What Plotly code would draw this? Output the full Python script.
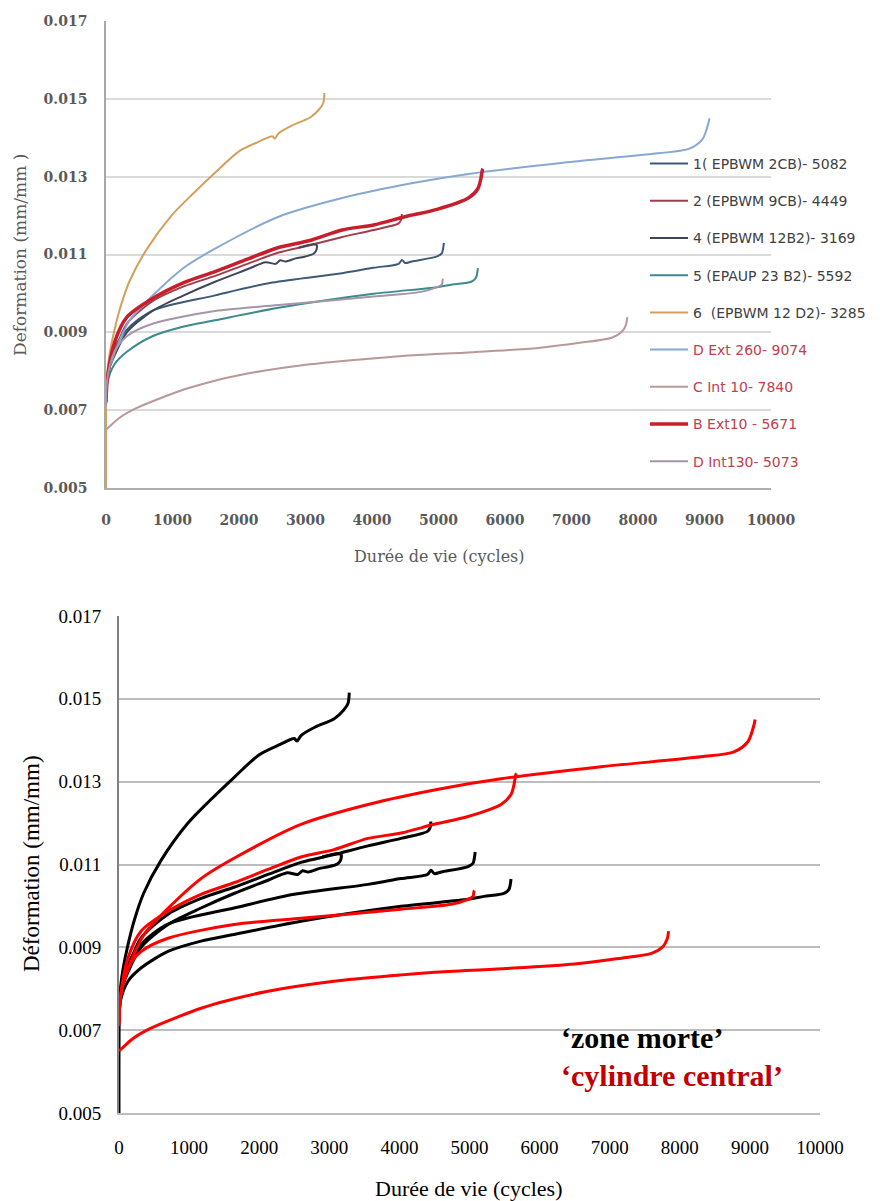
import plotly.graph_objects as go

# ---------------- data (cycles, deformation mm/mm) ----------------
x_s1 = [0, 20, 71, 314, 699, 1640, 2500, 3552, 4023, 4400, 4451, 4500, 4600, 4979, 5050, 5079, 5082]
y_s1 = [0.0073, 0.0078, 0.00842, 0.00907, 0.00956, 0.00995, 0.01028, 0.01052, 0.01066, 0.01076, 0.01086,
        0.01078, 0.01082, 0.01095, 0.01103, 0.01127, 0.0113]

x_s2 = [0, 20, 128, 314, 699, 1170, 1640, 2126, 2596, 3067, 3552, 4023, 4401, 4440, 4449]
y_s2 = [0.0073, 0.0079, 0.0085, 0.00922, 0.0098, 0.01018, 0.01045, 0.01076, 0.01105, 0.01124, 0.01145,
        0.01163, 0.0118, 0.0119, 0.01204]

x_s4 = [0, 20, 128, 314, 699, 1170, 1640, 2126, 2400, 2550, 2620, 2700, 2850, 3000, 3120, 3160, 3169, 3100, 2900]
y_s4 = [0.0073, 0.0079, 0.0084, 0.0090, 0.00955, 0.00995, 0.0103, 0.01062, 0.0108, 0.01076, 0.01085,
        0.01082, 0.0109, 0.01095, 0.01102, 0.0111, 0.01124, 0.01126, 0.01118]

x_s5 = [0, 20, 128, 314, 699, 1170, 1640, 2596, 4023, 4979, 5207, 5492, 5563, 5592]
y_s5 = [0.0072, 0.0077, 0.00818, 0.0085, 0.0089, 0.00915, 0.00931, 0.00963, 0.00999, 0.01016, 0.01023,
        0.0103, 0.0104, 0.01065]

x_s6 = [0, 5, 20, 60, 120, 214, 350, 600, 984, 1300, 1640, 2000, 2300, 2500, 2540, 2600, 2800, 3070, 3200, 3265, 3285]
y_s6 = [0.0050, 0.0075, 0.0080, 0.0085, 0.0090, 0.00963, 0.0103, 0.0111, 0.0120, 0.01255, 0.0131, 0.01365,
        0.0139, 0.01404, 0.01398, 0.01412, 0.01432, 0.01452, 0.01472, 0.01488, 0.01515]

x_dext = [0, 20, 71, 214, 357, 699, 1170, 1640, 2596, 3552, 4593, 5449, 6876, 8302, 8773, 8973, 9058, 9074]
y_dext = [0.0072, 0.0078, 0.00818, 0.00883, 0.00931, 0.00994, 0.01066, 0.01115, 0.01197, 0.01245, 0.01283,
          0.01307, 0.01336, 0.0136, 0.01372, 0.01397, 0.01437, 0.0145]

x_cint = [0, 28, 200, 456, 1170, 1509, 2126, 3067, 4000, 4500, 5517, 6500, 7122, 7605, 7760, 7820, 7840]
y_cint = [0.0065, 0.00654, 0.0068, 0.00705, 0.00753, 0.0077, 0.00794, 0.00818, 0.00833, 0.0084, 0.00849,
          0.0086, 0.00873, 0.00886, 0.00902, 0.0092, 0.00939]

x_bext = [0, 20, 128, 314, 699, 1170, 1640, 2126, 2596, 3067, 3552, 4023, 4494, 4979, 5449, 5592, 5635, 5660, 5671]
y_bext = [0.0072, 0.0078, 0.00874, 0.00939, 0.00987, 0.01028, 0.01056, 0.01088, 0.01118, 0.01136, 0.01163,
          0.01176, 0.01197, 0.01216, 0.01245, 0.01269, 0.01293, 0.01317, 0.0132]

x_dint = [0, 20, 128, 314, 699, 1640, 2596, 4023, 4736, 4979, 5050, 5064, 5073]
y_dint = [0.0071, 0.0078, 0.0085, 0.0089, 0.00922, 0.00955, 0.0097, 0.00992, 0.01004, 0.01016, 0.01023,
          0.01035, 0.01037]

series_names = ["1( EPBWM 2CB)- 5082", "2 (EPBWM 9CB)- 4449", "4 (EPBWM 12B2)- 3169",
                "5 (EPAUP 23 B2)- 5592", "6  (EPBWM 12 D2)- 3285", "D Ext 260- 9074",
                "C Int 10- 7840", "B Ext10 - 5671", "D Int130- 5073"]
series_x = [x_s1, x_s2, x_s4, x_s5, x_s6, x_dext, x_cint, x_bext, x_dint]
series_y = [y_s1, y_s2, y_s4, y_s5, y_s6, y_dext, y_cint, y_bext, y_dint]
zone = ["morte", "morte", "morte", "morte", "morte", "central", "central", "central", "central"]

top_colors = ["#3e5a78", "#a33d4b", "#3f4656", "#3b8a8c", "#d3a05c", "#86a8d2", "#b89898", "#c81e2c", "#a496a8"]
top_widths = [2, 2, 2, 2, 2, 2, 2, 3.5, 2]

y_ticks = [0.005, 0.007, 0.009, 0.011, 0.013, 0.015, 0.017]
y_ticklabels = ["0.005", "0.007", "0.009", "0.011", "0.013", "0.015", "0.017"]
x_ticks = [0, 1000, 2000, 3000, 4000, 5000, 6000, 7000, 8000, 9000, 10000]
x_ticklabels = ["0", "1000", "2000", "3000", "4000", "5000", "6000", "7000", "8000", "9000", "10000"]

W, H = 880, 1201
OFF = 7  # page body margin compensation


def px(x):
    return (x - OFF) / W


def py(y):
    return 1 - (y - OFF) / H


fig = go.Figure()

# ---------------- top chart ----------------
for i in range(len(series_names)):
    if zone[i] == "central":
        label = "<span style='color:#c0404f'>%s</span>" % series_names[i]
    else:
        label = series_names[i]
    fig.add_trace(go.Scatter(
        x=series_x[i], y=series_y[i], mode="lines", name=label,
        line=dict(color=top_colors[i], width=top_widths[i], shape="spline", smoothing=0.8),
        xaxis="x", yaxis="y", legendgroup="g%d" % i, showlegend=True))

# ---------------- bottom chart ----------------
order = [i for i in range(len(series_names)) if zone[i] == "morte"] + \
        [i for i in range(len(series_names)) if zone[i] == "central"]
for i in order:
    fig.add_trace(go.Scatter(
        x=series_x[i], y=series_y[i], mode="lines", name=series_names[i],
        line=dict(color="#000000" if zone[i] == "morte" else "#ff0000", width=3,
                  shape="spline", smoothing=0.8),
        xaxis="x2", yaxis="y2", showlegend=False))

top_dom_x = [px(105), px(770)]
top_dom_y = [py(487), py(20)]
bot_dom_x = [px(118), px(819)]
bot_dom_y = [py(1112), py(615)]

top_tick_font = dict(family="DejaVu Serif", size=14, color="#5a5a5a", weight="bold")
bot_tick_font = dict(family="Liberation Serif", size=19, color="#000000")

fig.update_layout(
    template="none",
    width=W, height=H, autosize=False,
    margin=dict(l=0, r=0, t=0, b=0),
    paper_bgcolor="white", plot_bgcolor="white",
    xaxis=dict(domain=top_dom_x, anchor="y", range=[0, 10000], tickvals=x_ticks, ticktext=x_ticklabels,
               showgrid=False, zeroline=False, showline=True, linecolor="#b0b0b0", linewidth=1.5,
               ticks="", tickfont=top_tick_font, ticklabelstandoff=18, automargin=False),
    yaxis=dict(domain=top_dom_y, anchor="x", range=[0.005, 0.017], tickvals=y_ticks,
               ticktext=y_ticklabels, showgrid=True, gridcolor="#dadada", gridwidth=1.5,
               zeroline=False, showline=True, linecolor="#a8a8a8", linewidth=1.5,
               ticks="", tickfont=top_tick_font, ticklabelstandoff=14, automargin=False),
    xaxis2=dict(domain=bot_dom_x, anchor="y2", range=[0, 10000], tickvals=x_ticks, ticktext=x_ticklabels,
                showgrid=False, zeroline=False, showline=True, linecolor="#bdbdbd", linewidth=1.5,
                ticks="", tickfont=bot_tick_font, ticklabelstandoff=16, automargin=False),
    yaxis2=dict(domain=bot_dom_y, anchor="x2", range=[0.005, 0.017], tickvals=y_ticks,
                ticktext=y_ticklabels, showgrid=True, gridcolor="#bdbdbd", gridwidth=1.5,
                zeroline=False, showline=True, linecolor="#808080", linewidth=2,
                ticks="", tickfont=bot_tick_font, ticklabelstandoff=12, automargin=False),
    legend=dict(x=px(644), y=py(147), xanchor="left", yanchor="top",
                bgcolor="rgba(0,0,0,0)", borderwidth=0, traceorder="grouped",
                tracegroupgap=16, itemwidth=38,
                font=dict(family="DejaVu Sans", size=14, color="#404040")),
    showlegend=True,
)

annotations = [
    dict(text="Durée de vie (cycles)", x=px(438), y=py(555), xref="paper", yref="paper",
         showarrow=False, xanchor="center", yanchor="middle",
         font=dict(family="DejaVu Serif", size=16, color="#5a5a5a")),
    dict(text="Deformation (mm/mm )", x=px(19), y=py(254), xref="paper", yref="paper",
         showarrow=False, xanchor="center", yanchor="middle", textangle=-90,
         font=dict(family="DejaVu Serif", size=17, color="#5a5a5a")),
    dict(text="Durée de vie (cycles)", x=px(468), y=py(1187), xref="paper", yref="paper",
         showarrow=False, xanchor="center", yanchor="middle",
         font=dict(family="Liberation Serif", size=22, color="#000000")),
    dict(text="Déformation (mm/mm)", x=px(30), y=py(863), xref="paper", yref="paper",
         showarrow=False, xanchor="center", yanchor="middle", textangle=-90,
         font=dict(family="Liberation Serif", size=23, color="#000000")),
    dict(text="<b>‘zone morte’</b>", x=px(558), y=py(1036), xref="paper", yref="paper",
         showarrow=False, xanchor="left", yanchor="middle",
         font=dict(family="Liberation Serif", size=30, color="#000000")),
    dict(text="<b>‘cylindre central’</b>", x=px(558), y=py(1074), xref="paper", yref="paper",
         showarrow=False, xanchor="left", yanchor="middle",
         font=dict(family="Liberation Serif", size=30, color="#c00000")),
]
fig.update_layout(annotations=annotations)

fig.write_html("out.html")
